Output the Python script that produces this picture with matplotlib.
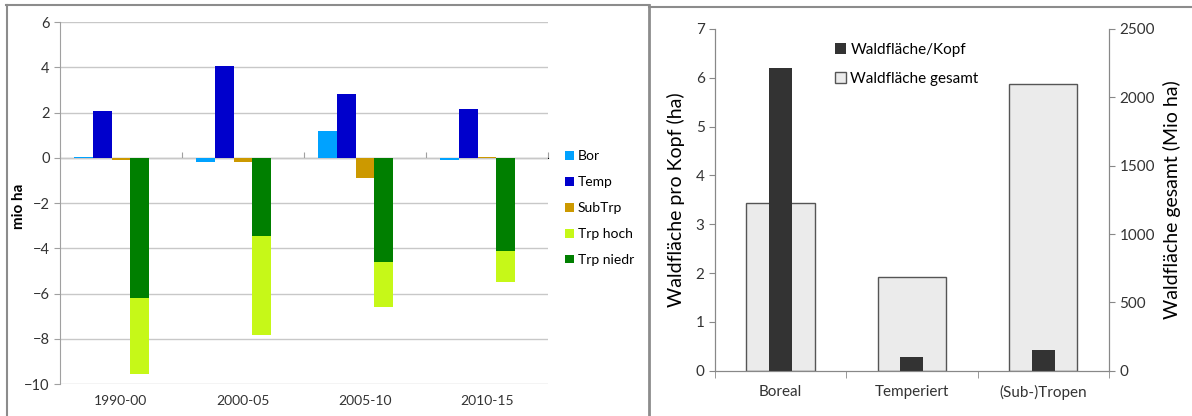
import numpy as np
import matplotlib.pyplot as plt
from matplotlib.lines import Line2D

plt.rcParams['font.family'] = ['Lato', 'DejaVu Sans']

# Linkes Diagramm: Veraenderung Waldflaeche (mio ha)
perioden = ['1990-00', '2000-05', '2005-10', '2010-15']
bor = [0.05, -0.2, 1.2, -0.1]
temp = [2.07, 4.07, 2.83, 2.17]
subtrp = [-0.1, -0.2, -0.88, 0.05]
trp_niedr = [-6.2, -3.45, -4.62, -4.13]
trp_hoch = [-3.35, -4.4, -1.99, -1.35]

# Rechtes Diagramm
zonen = ['Boreal', 'Temperiert', '(Sub-)Tropen']
flaeche_kopf = [6.2, 0.29, 0.43]
flaeche_gesamt = [1225, 683, 2095]

fig = plt.figure(figsize=(11.92, 4.16), dpi=100)

# ---- linkes Diagramm ----
ax = fig.add_axes([0.0503, 0.0769, 0.4094, 0.870])
x = np.arange(len(perioden))
w = 0.153
ax.bar(x - 2 * w, bor, w, color='#00A2FF', label='Bor', zorder=3)
ax.bar(x - w, temp, w, color='#0000CC', label='Temp', zorder=3)
ax.bar(x, subtrp, w, color='#CC9900', label='SubTrp', zorder=3)
ax.bar(x + w, trp_hoch, w, bottom=trp_niedr, color='#C6F818', label='Trp hoch', zorder=3)
ax.bar(x + w, trp_niedr, w, color='#007F00', label='Trp niedr', zorder=3)

ax.set_xlim(-0.5, 3.5)
ax.set_ylim(-10, 6)
ax.set_yticks(range(-10, 7, 2))
ax.yaxis.grid(True, color='#C8C8C8', lw=1, zorder=0)
ax.set_xticks(x)
ax.set_xticklabels(perioden, fontsize=10, color='#333333')
ax.tick_params(axis='x', length=0, pad=8)
ax.tick_params(axis='y', length=4, color='#A0A0A0', labelsize=10.5, colors='#333333')
for s in ['top', 'right', 'bottom']:
    ax.spines[s].set_visible(False)
ax.spines['left'].set_color('#A0A0A0')
ax.set_ylabel('mio ha', fontsize=11, fontweight='bold')
ax.yaxis.set_label_coords(-0.07, 0.49)

# Nulllinie mit Trennstrichen
sec = ax.secondary_xaxis((0 - (-10)) / 16)
sec.set_xticks(np.r_[x - 0.5, x[-1] + 0.5])
sec.set_xticklabels([])
sec.tick_params(length=4, color='#A0A0A0', direction='out')
sec.spines['bottom'].set_color('#A0A0A0')

ax.legend(loc='upper left', bbox_to_anchor=(1.01, 0.68), frameon=False,
          fontsize=10, handlelength=0.6, handleheight=0.6, handletextpad=0.3,
          labelspacing=1.0)

# ---- rechtes Diagramm ----
ax1 = fig.add_axes([0.5998, 0.1089, 0.3305, 0.8214])
ax2 = ax1.twinx()
xr = np.arange(len(zonen))
ax2.bar(xr, flaeche_gesamt, 0.52, color='#EBEBEB', edgecolor='#555555', lw=1,
        label='Waldfläche gesamt')
ax1.bar(xr, flaeche_kopf, 0.175, color='#333333', label='Waldfläche/Kopf')
ax1.set_zorder(2)
ax2.set_zorder(1)
ax1.patch.set_visible(False)

ax1.set_xlim(-0.5, 2.5)
ax1.set_ylim(0, 7)
ax2.set_ylim(0, 2500)
ax2.set_yticks(range(0, 2501, 500))
ax1.set_xticks(xr)
ax1.set_xticklabels(zonen, fontsize=11, color='#333333')
ax1.set_xticks(np.r_[xr - 0.5, xr[-1] + 0.5], minor=True)
ax1.tick_params(axis='x', which='major', length=0, pad=10)
ax1.tick_params(axis='x', which='minor', length=5, color='#888888')
ax1.tick_params(axis='y', length=4, color='#888888', labelsize=11, colors='#333333')
ax2.tick_params(axis='y', length=4, color='#888888', labelsize=11, colors='#333333')
for a in (ax1, ax2):
    a.spines['top'].set_visible(False)
    for s in ['left', 'right', 'bottom']:
        a.spines[s].set_color('#888888')
ax1.set_ylabel('Waldfläche pro Kopf (ha)', fontsize=14, labelpad=8)
ax2.set_ylabel('Waldfläche gesamt (Mio ha)', fontsize=14, labelpad=6)

h1, l1 = ax1.get_legend_handles_labels()
h2, l2 = ax2.get_legend_handles_labels()
ax1.legend(h1 + h2, l1 + l2, loc='upper left', bbox_to_anchor=(0.27, 1.0),
           frameon=False, fontsize=11, handlelength=0.7, handleheight=0.7,
           handletextpad=0.3, labelspacing=1.0)

# Rahmen der beiden Bildteile
fig.add_artist(Line2D([6 / 1192, 649 / 1192], [1 - 5 / 416, 1 - 5 / 416],
                      color='#8C8C8C', lw=1.5))
fig.add_artist(Line2D([649 / 1192, 1], [1 - 7 / 416, 1 - 7 / 416],
                      color='#8C8C8C', lw=1.5))
fig.add_artist(Line2D([7 / 1192, 7 / 1192], [0, 1 - 5 / 416], color='#8C8C8C', lw=1.5))
fig.add_artist(Line2D([649 / 1192, 649 / 1192], [0, 1 - 5 / 416], color='#8C8C8C', lw=2))

fig.savefig('out.png', dpi=100)
